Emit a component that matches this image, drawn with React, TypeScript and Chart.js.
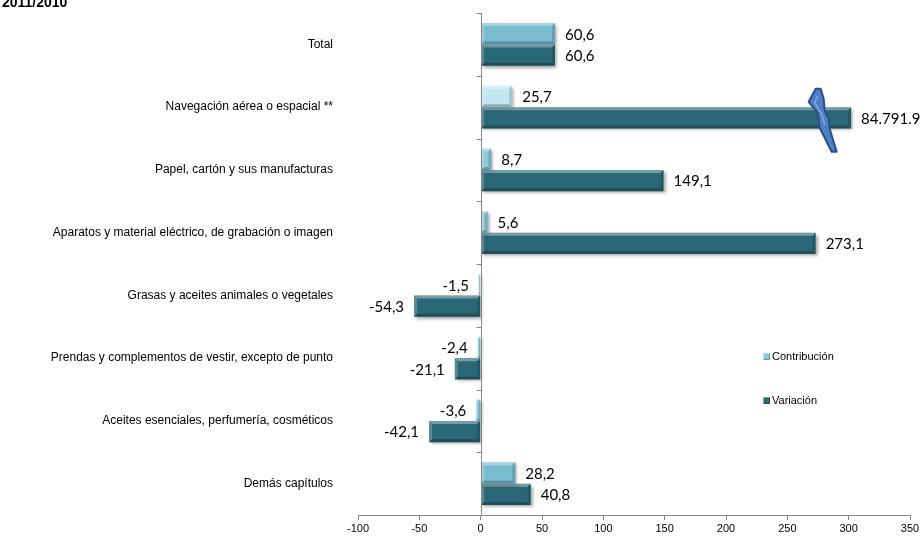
import React, { useEffect, useRef } from "react";
import { Chart, registerables } from "chart.js";

Chart.register(...registerables);

const categories = [
  "Total",
  "Navegación aérea o espacial **",
  "Papel, cartón y sus manufacturas",
  "Aparatos y material eléctrico, de grabación o imagen",
  "Grasas y aceites animales o vegetales",
  "Prendas y complementos de vestir, excepto de punto",
  "Aceites esenciales, perfumería, cosméticos",
  "Demás capítulos",
];

const contribucion = [60.6, 25.7, 8.7, 5.6, -1.5, -2.4, -3.6, 28.2];
const variacion = [60.6, 84791.9, 149.1, 273.1, -54.3, -21.1, -42.1, 40.8];

// axis break: values beyond this are drawn cut at the break
const axisBreakValue = 302;
const breakSymbolValue = 278;

const xTicksMin = -100;
const xTicksMax = 350;
const xTicksStep = 50;

const contribColors = ["#79bccf", "#c3e7f0", "#8ccadb", "#8ccadb", "#8ccadb", "#8ccadb", "#8ccadb", "#79bccf"];
const variacionColor = "#2a6877";

const fmt = (v: number) => {
  if (Math.abs(v) >= 1000) return "84.791.9";
  return v.toFixed(1).replace(".", ",");
};

export default function App() {
  const ref = useRef<HTMLCanvasElement | null>(null);

  useEffect(() => {
    const canvas = ref.current;
    if (!canvas) return;

    const bevelPlugin = {
      id: "bevel",
      beforeDatasetsDraw(chart: any) {
        const ctx = chart.ctx;
        ctx.save();
        ctx.shadowColor = "rgba(0,0,0,0.35)";
        ctx.shadowBlur = 3;
        ctx.shadowOffsetX = 2;
        ctx.shadowOffsetY = 2;
      },
      afterDatasetsDraw(chart: any) {
        const ctx = chart.ctx;
        ctx.restore();
        ctx.save();
        chart.data.datasets.forEach((ds: any, di: number) => {
          const meta = chart.getDatasetMeta(di);
          meta.data.forEach((el: any) => {
            const p = el.getProps(["x", "y", "base", "height"], true);
            const l = Math.min(p.x, p.base);
            const r = Math.max(p.x, p.base);
            const t = p.y - p.height / 2;
            const b = p.y + p.height / 2;
            const w = r - l;
            const bv = Math.min(3, w / 2);
            if (w < 1) return;
            ctx.fillStyle = "rgba(255,255,255,0.35)";
            ctx.beginPath();
            ctx.moveTo(l, t); ctx.lineTo(r, t); ctx.lineTo(r - bv, t + 3); ctx.lineTo(l + bv, t + 3); ctx.closePath(); ctx.fill();
            ctx.fillStyle = "rgba(255,255,255,0.22)";
            ctx.beginPath();
            ctx.moveTo(l, t); ctx.lineTo(l + bv, t + 3); ctx.lineTo(l + bv, b - 3); ctx.lineTo(l, b); ctx.closePath(); ctx.fill();
            ctx.fillStyle = "rgba(0,0,0,0.25)";
            ctx.beginPath();
            ctx.moveTo(l, b); ctx.lineTo(r, b); ctx.lineTo(r - bv, b - 3); ctx.lineTo(l + bv, b - 3); ctx.closePath(); ctx.fill();
            ctx.fillStyle = "rgba(0,0,0,0.15)";
            ctx.beginPath();
            ctx.moveTo(r, t); ctx.lineTo(r - bv, t + 3); ctx.lineTo(r - bv, b - 3); ctx.lineTo(r, b); ctx.closePath(); ctx.fill();
          });
        });
        ctx.restore();
      },
    };

    const decorPlugin = {
      id: "decor",
      afterDraw(chart: any) {
        const ctx = chart.ctx;
        const xs = chart.scales.x;
        const area = chart.chartArea;
        ctx.save();
        // vertical axis at 0
        const x0 = Math.round(xs.getPixelForValue(0)) + 0.5;
        ctx.strokeStyle = "#868686";
        ctx.lineWidth = 1;
        ctx.beginPath();
        ctx.moveTo(x0, area.top);
        ctx.lineTo(x0, area.bottom);
        const n = categories.length;
        const step = (area.bottom - area.top) / n;
        for (let i = 0; i <= n; i++) {
          const yy = Math.round(area.top + i * step) + 0.5;
          ctx.moveTo(x0 - 5, yy);
          ctx.lineTo(x0, yy);
        }
        ctx.stroke();

        // axis-break lightning symbol
        const bi = variacion.findIndex((v) => v > axisBreakValue);
        if (bi >= 0) {
          const el = chart.getDatasetMeta(1).data[bi];
          const cy = el.getProps(["y"], true).y + 1;
          const cx = xs.getPixelForValue(breakSymbolValue);
          const pts = [
            [-6, -30], [-1, -30], [2, -20], [3, -8], [7, 0], [8, 10], [15, 33],
            [10, 33], [-2, 9], [-4, -6], [-13, -17],
          ];
          ctx.beginPath();
          pts.forEach(([dx, dy], k) => {
            if (k === 0) ctx.moveTo(cx + dx, cy + dy);
            else ctx.lineTo(cx + dx, cy + dy);
          });
          ctx.closePath();
          ctx.fillStyle = "#4f7fc4";
          ctx.fill();
          ctx.lineWidth = 2;
          ctx.lineJoin = "round";
          ctx.strokeStyle = "#2c4f8a";
          ctx.stroke();
          ctx.beginPath();
          ctx.moveTo(cx - 4, cy - 23);
          ctx.lineTo(cx - 7, cy - 16);
          ctx.lineTo(cx, cy - 5);
          ctx.lineTo(cx + 3, cy + 6);
          ctx.strokeStyle = "rgba(140,180,230,0.8)";
          ctx.lineWidth = 1.5;
          ctx.stroke();
        }

        // data labels
        ctx.font = "15px Lato, 'Open Sans', sans-serif";
        ctx.fillStyle = "#000";
        ctx.textBaseline = "middle";
        chart.data.datasets.forEach((ds: any, di: number) => {
          const meta = chart.getDatasetMeta(di);
          const src = di === 0 ? contribucion : variacion;
          meta.data.forEach((el: any, i: number) => {
            const p = el.getProps(["x", "y"], true);
            const v = src[i];
            const txt = fmt(v);
            if (v >= 0) {
              ctx.textAlign = "left";
              ctx.fillText(txt, p.x + 10, p.y + 1);
            } else {
              ctx.textAlign = "right";
              ctx.fillText(txt, p.x - 10, p.y + 1);
            }
          });
        });
        ctx.restore();
      },
    };

    const chart = new Chart(canvas, {
      type: "bar",
      data: {
        labels: categories,
        datasets: [
          {
            label: "Contribución",
            data: contribucion,
            backgroundColor: contribColors,
            borderWidth: 0,
            barPercentage: 1,
            categoryPercentage: 0.68,
          },
          {
            label: "Variación",
            data: variacion.map((v) => Math.min(v, axisBreakValue)),
            backgroundColor: variacionColor,
            borderWidth: 0,
            barPercentage: 1,
            categoryPercentage: 0.68,
          },
        ],
      },
      options: {
        indexAxis: "y",
        responsive: false,
        animation: false,
        layout: { padding: { top: 13, right: 14, left: 0, bottom: 0 } },
        plugins: {
          legend: { display: false },
          tooltip: { enabled: false },
        },
        scales: {
          x: {
            type: "linear",
            min: xTicksMin,
            max: xTicksMax,
            ticks: {
              stepSize: xTicksStep,
              font: { family: "Arial, 'Liberation Sans', sans-serif", size: 11 },
              color: "#000",
              padding: 2,
              callback: (v: any) => String(v),
            },
            grid: {
              drawOnChartArea: false,
              drawTicks: true,
              tickLength: 5,
              color: "#868686",
            },
            border: { display: true, color: "#868686" },
            afterFit: (s: any) => {
              s.height = 25;
            },
          },
          y: {
            type: "category",
            ticks: {
              font: { family: "Arial, 'Liberation Sans', sans-serif", size: 12 },
              color: "#000",
              padding: 25,
            },
            grid: { display: false, drawTicks: false },
            border: { display: false },
            afterFit: (s: any) => {
              s.width = 358;
              s.paddingTop = 0;
              s.paddingBottom = 0;
            },
          },
        },
      },
      plugins: [bevelPlugin, decorPlugin],
    });

    return () => chart.destroy();
  }, []);

  const legendText: React.CSSProperties = {
    position: "absolute",
    fontFamily: "Arial, 'Liberation Sans', sans-serif",
    fontSize: 11,
    color: "#000",
    display: "flex",
    alignItems: "center",
    lineHeight: "12px",
  };
  const sq = (c: string): React.CSSProperties => ({
    width: 7,
    height: 7,
    background: c,
    marginRight: 2,
    boxShadow: "inset 1px 1px 0 rgba(255,255,255,0.4), inset -1px -1px 0 rgba(0,0,0,0.25)",
  });

  return (
    <div style={{ position: "absolute", left: 0, top: 0, width: 924, height: 540, background: "#fff", overflow: "hidden" }}>
      <div
        style={{
          position: "absolute",
          left: 2,
          top: -5,
          fontFamily: "Arial, 'Liberation Sans', sans-serif",
          fontWeight: "bold",
          fontSize: 14,
          lineHeight: "14px",
          color: "#000",
          whiteSpace: "nowrap",
        }}
      >
        2011/2010
      </div>
      <canvas ref={ref} width={924} height={540} style={{ display: "block", width: 924, height: 540 }} />
      <div style={{ ...legendText, left: 763, top: 350 }}>
        <span style={sq("#8ccadb")} />
        Contribución
      </div>
      <div style={{ ...legendText, left: 763, top: 394 }}>
        <span style={sq(variacionColor)} />
        Variación
      </div>
    </div>
  );
}
